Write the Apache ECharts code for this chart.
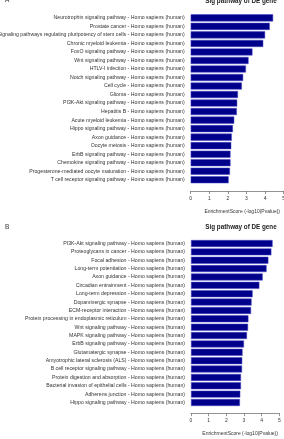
<!DOCTYPE html>
<html>
<head>
<meta charset="utf-8">
<script src="https://cdn.jsdelivr.net/npm/echarts@6/dist/echarts.min.js"></script>
<style>
  html, body { margin: 0; padding: 0; background: #fff; }
  #main { width: 284px; height: 439px; }
</style>
</head>
<body>
<div id="main"></div>
<script>
// panel A
const pathwaysA = [
  'Neurotrophin signaling pathway - Homo sapiens (human)',
  'Prostate cancer - Homo sapiens (human)',
  'Signaling pathways regulating pluripotency of stem cells - Homo sapiens (human)',
  'Chronic myeloid leukemia - Homo sapiens (human)',
  'FoxO signaling pathway - Homo sapiens (human)',
  'Wnt signaling pathway - Homo sapiens (human)',
  'HTLV-I infection - Homo sapiens (human)',
  'Notch signaling pathway - Homo sapiens (human)',
  'Cell cycle - Homo sapiens (human)',
  'Glioma - Homo sapiens (human)',
  'PI3K-Akt signaling pathway - Homo sapiens (human)',
  'Hepatitis B - Homo sapiens (human)',
  'Acute myeloid leukemia - Homo sapiens (human)',
  'Hippo signaling pathway - Homo sapiens (human)',
  'Axon guidance - Homo sapiens (human)',
  'Oocyte meiosis - Homo sapiens (human)',
  'ErbB signaling pathway - Homo sapiens (human)',
  'Chemokine signaling pathway - Homo sapiens (human)',
  'Progesterone-mediated oocyte maturation - Homo sapiens (human)',
  'T cell receptor signaling pathway - Homo sapiens (human)'
]
const scoresA = [4.43, 4.25, 4.0, 3.9, 3.32, 3.11, 2.97, 2.82, 2.75, 2.54,
  2.5, 2.48, 2.34, 2.27, 2.21, 2.18, 2.14, 2.14, 2.11, 2.04]

// panel B
const pathwaysB = [
  'PI3K-Akt signaling pathway - Homo sapiens (human)',
  'Proteoglycans in cancer - Homo sapiens (human)',
  'Focal adhesion - Homo sapiens (human)',
  'Long-term potentiation - Homo sapiens (human)',
  'Axon guidance - Homo sapiens (human)',
  'Circadian entrainment - Homo sapiens (human)',
  'Long-term depression - Homo sapiens (human)',
  'Dopaminergic synapse - Homo sapiens (human)',
  'ECM-receptor interaction - Homo sapiens (human)',
  'Protein processing in endoplasmic reticulum - Homo sapiens (human)',
  'Wnt signaling pathway - Homo sapiens (human)',
  'MAPK signaling pathway - Homo sapiens (human)',
  'ErbB signaling pathway - Homo sapiens (human)',
  'Glutamatergic synapse - Homo sapiens (human)',
  'Amyotrophic lateral sclerosis (ALS) - Homo sapiens (human)',
  'B cell receptor signaling pathway - Homo sapiens (human)',
  'Protein digestion and absorption - Homo sapiens (human)',
  'Bacterial invasion of epithelial cells - Homo sapiens (human)',
  'Adherens junction - Homo sapiens (human)',
  'Hippo signaling pathway - Homo sapiens (human)'
]
const scoresB = [4.62, 4.55, 4.38, 4.28, 4.06, 3.87, 3.49, 3.43, 3.4, 3.25,
  3.23, 3.17, 3.0, 2.92, 2.9, 2.89, 2.83, 2.83, 2.79, 2.77]

const scoreTicks = [0, 1, 2, 3, 4, 5]
const chartTitle = 'Sig pathway of DE gene'
const axisTitle = 'EnrichmentScore (-log10(Pvalue))'

const font = 'Liberation Sans, Arial, sans-serif'

function valueAxis(idx, offset, gap) {
  return {
    type: 'value',
    gridIndex: idx,
    min: scoreTicks[0],
    max: scoreTicks[scoreTicks.length - 1],
    interval: 1,
    offset: offset,
    splitLine: { show: false },
    axisLine: { show: true, lineStyle: { color: '#777', width: 0.8 } },
    axisTick: { show: true, length: 3, lineStyle: { color: '#777', width: 0.8 } },
    axisLabel: { fontSize: 5, color: '#333', margin: 5, fontFamily: font },
    name: axisTitle,
    nameLocation: 'middle',
    nameGap: gap,
    nameTextStyle: { fontSize: 5, color: '#333', fontFamily: font, padding: [0, 0, 0, 10] }
  }
}

function catAxis(idx, names) {
  return {
    type: 'category',
    gridIndex: idx,
    data: names,
    inverse: true,
    axisLine: { show: false },
    axisTick: { show: false },
    axisLabel: { fontSize: 5.2, color: '#333', margin: 6, fontFamily: font }
  }
}

function bars(idx, values) {
  return {
    type: 'bar',
    xAxisIndex: idx,
    yAxisIndex: idx,
    data: values,
    barCategoryGap: '17%',
    itemStyle: { color: '#00008b', borderColor: '#4848c8', borderWidth: 0.5 },
    silent: true
  }
}

const titleStyle = { fontSize: 6.3, fontWeight: 'bold', color: '#222', fontFamily: font }
const panelStyle = { fontSize: 6.5, fontWeight: 'normal', color: '#333', fontFamily: font }

const myChart = echarts.init(document.getElementById('main'), null, { renderer: 'canvas' })
myChart.setOption({
  animation: false,
  backgroundColor: '#fff',
  title: [
    { text: chartTitle, left: 236, top: -7, textAlign: 'center', textStyle: titleStyle },
    { text: chartTitle, left: 236, top: 219.5, textAlign: 'center', textStyle: titleStyle },
    { text: 'A', left: 0, top: -8, textStyle: panelStyle },
    { text: 'B', left: 0, top: 219, textStyle: panelStyle }
  ],
  grid: [
    { left: 190.7, top: 13.6, width: 93, height: 170.4, containLabel: false, outerBoundsMode: 'none' },
    { left: 191, top: 239.3, width: 88.3, height: 167.4, containLabel: false, outerBoundsMode: 'none' }
  ],
  xAxis: [valueAxis(0, 7, 18.5), valueAxis(1, 6.5, 17.5)],
  yAxis: [catAxis(0, pathwaysA), catAxis(1, pathwaysB)],
  series: [bars(0, scoresA), bars(1, scoresB)]
})
</script>
</body>
</html>
